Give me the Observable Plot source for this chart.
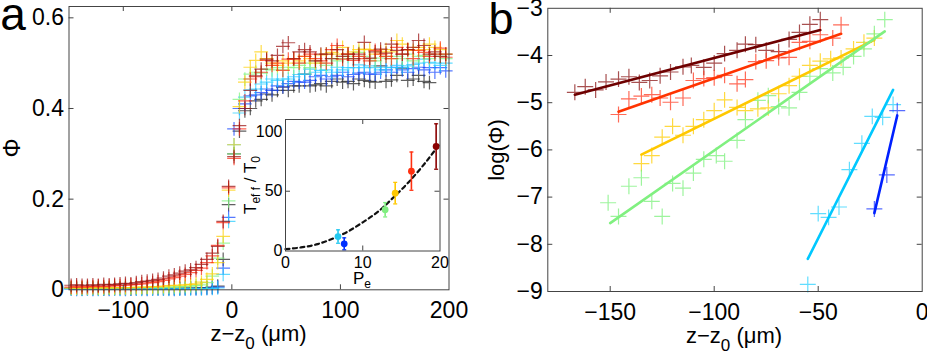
<!DOCTYPE html>
<html><head><meta charset="utf-8">
<script src="https://cdn.jsdelivr.net/npm/d3@7"></script>
<script src="https://cdn.jsdelivr.net/npm/@observablehq/plot@0.6"></script>
<style>
body{margin:0;background:#fff;}
#wrap{position:relative;width:927px;height:355px;overflow:hidden;background:#fff;}
#wrap svg{position:absolute;}
</style></head><body><div id="wrap"></div>
<script>
// ---------- Panel a data: concentration profiles ----------
const zA = [-148,-143,-138,-133,-128,-123,-118,-113,-108,-103,-98,-93,-88,-83,-78,-73,-68,-63,-58,-53,-48,-43,-38,-33,-28,-23,-18,-13,-8,-3,2,7,12,17,22,27,32,37,42,47,52,57,62,67,72,77,82,87,92,97,102,107,112,117,122,127,132,137,142,147,152,157,162,167,172,177,182,187,192,197];
const phiDarkRed = [0.010,0.011,0.010,0.010,0.011,0.010,0.012,0.011,0.012,0.013,0.014,0.013,0.016,0.018,0.019,0.021,0.023,0.026,0.030,0.033,0.037,0.041,0.044,0.049,0.056,0.067,0.081,0.096,0.151,0.228,0.294,0.362,0.400,0.440,0.472,0.487,0.509,0.505,0.517,0.537,0.545,0.510,0.525,0.530,0.525,0.505,0.520,0.520,0.510,0.530,0.515,0.520,0.510,0.520,0.546,0.511,0.525,0.531,0.522,0.542,0.528,0.520,0.530,0.535,0.550,0.539,0.520,0.525,0.515,0.520];
const phiRed = [0.006,0.007,0.006,0.007,0.007,0.008,0.007,0.008,0.009,0.009,0.010,0.011,0.012,0.013,0.015,0.016,0.018,0.021,0.024,0.027,0.030,0.034,0.038,0.043,0.048,0.060,0.075,0.098,0.148,0.225,0.290,0.355,0.417,0.465,0.470,0.480,0.506,0.495,0.500,0.484,0.509,0.509,0.500,0.515,0.520,0.510,0.505,0.500,0.530,0.539,0.509,0.520,0.506,0.515,0.510,0.505,0.528,0.520,0.515,0.510,0.535,0.520,0.530,0.510,0.528,0.524,0.515,0.520,0.533,0.513];
const phiYellow = [0.004,0.004,0.004,0.004,0.005,0.004,0.005,0.004,0.005,0.005,0.005,0.005,0.006,0.006,0.006,0.007,0.007,0.008,0.009,0.010,0.010,0.011,0.012,0.013,0.017,0.023,0.035,0.060,0.118,0.220,0.320,0.404,0.458,0.491,0.506,0.525,0.510,0.500,0.495,0.505,0.500,0.510,0.505,0.515,0.510,0.500,0.518,0.520,0.524,0.520,0.535,0.520,0.525,0.530,0.531,0.530,0.520,0.525,0.530,0.525,0.550,0.542,0.530,0.528,0.535,0.530,0.542,0.535,0.530,0.520];
const phiGreen = [0.003,0.003,0.003,0.003,0.003,0.003,0.003,0.004,0.003,0.004,0.004,0.004,0.004,0.004,0.005,0.005,0.005,0.005,0.006,0.006,0.007,0.007,0.008,0.009,0.011,0.016,0.030,0.070,0.103,0.196,0.300,0.420,0.465,0.476,0.480,0.478,0.487,0.485,0.490,0.485,0.491,0.490,0.495,0.500,0.490,0.505,0.500,0.495,0.510,0.505,0.510,0.515,0.510,0.524,0.515,0.510,0.505,0.511,0.515,0.510,0.515,0.510,0.520,0.505,0.515,0.517,0.510,0.520,0.515,0.510];
const phiCyan = [0.002,0.002,0.001,0.002,0.002,0.001,0.002,0.002,0.002,0.001,0.002,0.002,0.002,0.001,0.002,0.002,0.002,0.002,0.001,0.002,0.002,0.002,0.002,0.003,0.002,0.003,0.003,0.004,0.034,0.151,0.320,0.390,0.425,0.441,0.443,0.454,0.458,0.465,0.462,0.465,0.465,0.470,0.475,0.476,0.487,0.480,0.484,0.485,0.480,0.491,0.485,0.490,0.490,0.496,0.490,0.494,0.490,0.485,0.491,0.490,0.495,0.490,0.494,0.497,0.500,0.509,0.502,0.500,0.495,0.500];
const phiBlue = [0.002,0.001,0.002,0.002,0.001,0.002,0.002,0.001,0.002,0.002,0.001,0.002,0.002,0.002,0.001,0.002,0.002,0.002,0.002,0.001,0.002,0.002,0.003,0.002,0.003,0.003,0.004,0.006,0.048,0.160,0.355,0.400,0.410,0.428,0.430,0.435,0.443,0.440,0.450,0.448,0.455,0.460,0.458,0.458,0.462,0.470,0.473,0.465,0.470,0.473,0.480,0.470,0.475,0.478,0.480,0.476,0.476,0.480,0.485,0.480,0.491,0.485,0.480,0.488,0.491,0.485,0.490,0.480,0.490,0.483];
const phiBlack = [0.003,0.003,0.002,0.003,0.003,0.003,0.002,0.003,0.003,0.003,0.003,0.002,0.003,0.003,0.003,0.003,0.003,0.003,0.003,0.003,0.003,0.004,0.004,0.004,0.005,0.005,0.006,0.008,0.067,0.188,0.300,0.350,0.395,0.400,0.417,0.420,0.432,0.430,0.440,0.447,0.440,0.450,0.450,0.476,0.450,0.452,0.455,0.450,0.460,0.465,0.458,0.460,0.455,0.465,0.462,0.460,0.458,0.494,0.460,0.463,0.473,0.489,0.462,0.465,0.473,0.460,0.457,null,null,null];
const xTicksA = [-100, 0, 100, 200];
const yTicksA = [0, 0.2, 0.4, 0.6];

// ---------- Panel b data: log profiles and fits ----------
const bDarkRedZ = [-167,-162,-157,-152,-146,-141,-136,-131,-126,-121,-115,-111,-105,-100,-95,-89,-85,-80,-75,-69,-64,-59,-54,-49];
const bDarkRedLog = [-4.78,-4.66,-4.73,-4.56,-4.50,-4.45,-4.57,-4.53,-4.43,-4.35,-4.24,-4.21,-4.25,-4.16,-3.96,-3.89,-3.76,-3.77,-3.89,-3.92,-3.66,-3.51,-3.34,-3.24];
const bRedZ = [-146,-141,-135,-130,-126,-121,-115,-110,-105,-100,-95,-89,-85,-80,-75,-69,-64,-59,-54,-49,-43,-39];
const bRedLog = [-5.25,-4.92,-4.86,-4.83,-4.90,-4.99,-4.90,-4.53,-4.49,-4.47,-4.42,-4.60,-4.51,-4.13,-4.11,-4.05,-4.04,-3.72,-3.70,-3.56,-3.63,-3.35];
const bYellowZ = [-135,-130,-125,-120,-115,-110,-105,-100,-95,-89,-85,-79,-74,-69,-64,-59,-54,-49,-44,-39,-33,-28,-23];
const bYellowLog = [-6.29,-6.12,-5.73,-5.50,-5.69,-5.50,-5.36,-5.17,-4.94,-5.10,-5.17,-5.13,-5.11,-4.81,-4.64,-4.44,-4.21,-4.12,-4.07,-4.05,-3.86,-3.72,-3.63];
const bGreenZ = [-151,-146,-141,-135,-130,-125,-120,-115,-110,-105,-99,-95,-89,-85,-79,-74,-69,-64,-59,-54,-49,-43,-38,-33,-28,-23,-18];
const bGreenLog = [-7.12,-7.41,-6.77,-6.59,-7.09,-7.41,-6.71,-6.81,-6.49,-6.20,-6.12,-6.24,-5.80,-5.36,-4.95,-4.85,-5.08,-5.11,-4.78,-4.44,-4.28,-4.37,-4.25,-4.02,-3.86,-3.54,-3.24];
const bCyanZ = [-55,-50,-45,-40,-35,-29,-24,-19,-14];
const bCyanLog = [-8.85,-7.35,-7.43,-7.21,-6.42,-5.86,-5.29,-5.31,-5.04];
const bBlueZ = [-23,-17,-12];
const bBlueLog = [-7.25,-6.53,-5.17];
const fitDarkRedZ = [-167,-49], fitDarkRedLog = [-4.83,-3.46];
const fitRedZ = [-146,-39], fitRedLog = [-5.19,-3.54];
const fitYellowZ = [-135,-23], fitYellowLog = [-6.10,-3.67];
const fitGreenZ = [-150,-18], fitGreenLog = [-7.55,-3.49];
const fitCyanZ = [-55,-14], fitCyanLog = [-8.31,-4.73];
const fitBlueZ = [-23,-12], fitBlueLog = [-7.34,-5.27];
const xTicksB = [-150, -100, -50, 0];
const yTicksB = [-9, -8, -7, -6, -5, -4, -3];

// ---------- Inset data: T_eff/T_0 vs Pe ----------
const insetKeys = ["cyan","blue","green","yellow","red","darkred"];
const insetPe = [6.8, 7.6, 12.9, 14.2, 16.3, 19.5];
const insetT = [12.1, 6.0, 34.5, 48.4, 66.8, 87.4];
const insetErr = [5.6, 5.0, 6.0, 9.0, 16.0, 19.0];
const curvePe = [0, 2, 4, 6, 8, 10, 12, 14, 16, 18, 20];
const curveT = [1.5, 3, 5.5, 10, 16, 24, 33, 45, 58, 73, 90];
const xTicksI = [0, 10, 20];
const yTicksI = [0, 50, 100];

// ---------- styling ----------
const FONT = "'Liberation Sans', Arial, Helvetica, sans-serif";
const FRAME = "#444";
const TICK = 5;
const colA = {darkred:"#9a1010", red:"#ff2a10", yellow:"#ffcf00", green:"#7ef27e", cyan:"#22ccff", blue:"#1545ff", black:"#222222"};
const colI = {cyan:"#22c8f0", blue:"#0030ff", green:"#80ee80", yellow:"#ffc800", red:"#ff3010", darkred:"#8b0000"};
const colBpt = {darkred:"#8b1515", red:"#ff3a20", yellow:"#ffcc00", green:"#7cf07c", cyan:"#2cd2ff", blue:"#1f3bff"};
const colBline = {darkred:"#6e0000", red:"#ff3300", yellow:"#ffc800", green:"#80f080", cyan:"#00c8ff", blue:"#0020ff"};
const fmt = d => d < 0 ? "\u2212" + Math.abs(d) : String(d);

function innerTicks(xt, yt, iw, ih) {
  return [
    Plot.tickX(xt, {x: d => d, insetTop: ih - TICK, stroke: FRAME}),
    Plot.tickX(xt, {x: d => d, insetBottom: ih - TICK, stroke: FRAME}),
    Plot.tickY(yt, {y: d => d, insetRight: iw - TICK, stroke: FRAME}),
    Plot.tickY(yt, {y: d => d, insetLeft: iw - TICK, stroke: FRAME})
  ];
}
function place(svg, left, top) {
  svg.style.left = left + "px"; svg.style.top = top + "px";
  document.getElementById("wrap").appendChild(svg);
}
function label(svg, x, y, size, parts, rotate) {
  const t = d3.select(svg).append("text")
    .attr("transform", `translate(${x},${y})` + (rotate ? ` rotate(${rotate})` : ""))
    .attr("text-anchor", "middle").attr("font-family", FONT).attr("font-size", size).attr("fill", "#000");
  for (const p of parts) {
    const s = t.append("tspan").text(p.t);
    if (p.size) s.attr("font-size", p.size);
    if (p.dy) s.attr("dy", p.dy);
  }
}

// ---------- Panel a ----------
const seriesA = [
  ["black", phiBlack], ["blue", phiBlue], ["cyan", phiCyan], ["green", phiGreen],
  ["yellow", phiYellow], ["red", phiRed], ["darkred", phiDarkRed]
];
const dataA = seriesA.flatMap(([key, phi]) => zA.map((z, i) => ({z, phi: phi[i], key}))).filter(d => d.phi != null);
const mA = {top: 6, right: 21.5, bottom: 65.7, left: 68.5};
const WA = 470, HA = 355;
const iwA = WA - mA.left - mA.right, ihA = HA - mA.top - mA.bottom;
const plotA = Plot.plot({
  width: WA, height: HA,
  marginTop: mA.top, marginRight: mA.right, marginBottom: mA.bottom, marginLeft: mA.left,
  style: {background: "transparent", fontFamily: FONT, overflow: "visible"},
  x: {domain: [-150, 200]},
  y: {domain: [0, 0.625]},
  marks: [
    Plot.dot(dataA, {x: "z", y: "phi", stroke: d => colA[d.key], symbol: "plus", r: 4.5, strokeWidth: 1.2, strokeOpacity: 0.72}),
    ...innerTicks([-100, 0, 100], [0.2, 0.4, 0.6], iwA, ihA),
    Plot.axisX(xTicksA, {tickSize: 0, tickPadding: 12, fontSize: 23, label: null, tickFormat: fmt}),
    Plot.axisY(yTicksA, {tickSize: 0, tickPadding: 5, fontSize: 23, label: null, tickFormat: d => String(d)}),
    Plot.frame({stroke: FRAME})
  ]
});
label(plotA, 13, 30, 46, [{t: "a"}]);
label(plotA, 20, 148, 24, [{t: "\u03a6"}], -90);
label(plotA, 258.5, 341, 22, [{t: "z\u2212z"}, {t: "0", size: 17, dy: 8}, {t: " (\u03bcm)", size: 22, dy: -8}]);
place(plotA, 0, 0);

// ---------- Inset ----------
const dataI = insetKeys.map((key, i) => ({key, pe: insetPe[i], t: insetT[i], err: insetErr[i]}));
const curveI = curvePe.map((pe, i) => ({pe, t: curveT[i]}));
const capSymbol = {draw(ctx, size) { const r = Math.sqrt(size / Math.PI); ctx.moveTo(-r, 0); ctx.lineTo(r, 0); }};
const mI = {top: 9, right: 15.5, bottom: 39.5, left: 45};
const WI = 215, HI = 180;
const iwI = WI - mI.left - mI.right, ihI = HI - mI.top - mI.bottom;
const plotI = Plot.plot({
  width: WI, height: HI,
  marginTop: mI.top, marginRight: mI.right, marginBottom: mI.bottom, marginLeft: mI.left,
  style: {background: "transparent", fontFamily: FONT, overflow: "visible"},
  x: {domain: [0, 20]},
  y: {domain: [0, 110]},
  marks: [
    Plot.frame({fill: "white", stroke: "none"}),
    Plot.line(curveI, {x: "pe", y: "t", stroke: "#111", strokeWidth: 2.2, strokeDasharray: "4,3.5", curve: "monotone-x"}),
    Plot.ruleX(dataI, {x: "pe", y1: d => d.t - d.err, y2: d => d.t + d.err, stroke: d => colI[d.key], strokeWidth: 1.6}),
    Plot.dot(dataI, {x: "pe", y: d => d.t + d.err, symbol: capSymbol, r: 2, stroke: d => colI[d.key], strokeWidth: 1.3}),
    Plot.dot(dataI, {x: "pe", y: d => d.t - d.err, symbol: capSymbol, r: 2, stroke: d => colI[d.key], strokeWidth: 1.3}),
    Plot.dot(dataI, {x: "pe", y: "t", fill: d => colI[d.key], r: 3.4}),
    ...innerTicks([10], [50], iwI, ihI),
    Plot.axisX(xTicksI, {tickSize: 0, tickPadding: 6, fontSize: 16, label: null}),
    Plot.axisY(yTicksI, {tickSize: 0, tickPadding: 3, fontSize: 16, label: null}),
    Plot.frame({stroke: FRAME})
  ]
});
label(plotI, 122, 174, 17, [{t: "P"}, {t: "e", size: 12, dy: 4}]);
label(plotI, 16, 75, 17, [{t: "T"}, {t: "ef f", size: 12, dy: 4}, {t: " / T", size: 17, dy: -4}, {t: "0", size: 12, dy: 4}], -90);
place(plotI, 240, 110);

// ---------- Panel b ----------
const pointsB = [
  ["darkred", bDarkRedZ, bDarkRedLog], ["red", bRedZ, bRedLog], ["yellow", bYellowZ, bYellowLog],
  ["green", bGreenZ, bGreenLog], ["cyan", bCyanZ, bCyanLog], ["blue", bBlueZ, bBlueLog]
].flatMap(([key, zs, ls]) => zs.map((z, i) => ({key, z, l: ls[i]})));
const fitsB = [
  ["darkred", fitDarkRedZ, fitDarkRedLog], ["red", fitRedZ, fitRedLog], ["yellow", fitYellowZ, fitYellowLog],
  ["green", fitGreenZ, fitGreenLog], ["cyan", fitCyanZ, fitCyanLog], ["blue", fitBlueZ, fitBlueLog]
].flatMap(([key, zs, ls]) => zs.map((z, i) => ({key, z, l: ls[i]})));
const mB = {top: 7.8, right: 5.3, bottom: 64, left: 77.3};
const WB = 457, HB = 355;
const iwB = WB - mB.left - mB.right, ihB = HB - mB.top - mB.bottom;
const plotB = Plot.plot({
  width: WB, height: HB,
  marginTop: mB.top, marginRight: mB.right, marginBottom: mB.bottom, marginLeft: mB.left,
  style: {background: "transparent", fontFamily: FONT, overflow: "visible"},
  x: {domain: [-180, 0]},
  y: {domain: [-9, -3]},
  marks: [
    Plot.dot(pointsB, {x: "z", y: "l", stroke: d => colBpt[d.key], symbol: "plus", r: 5.2, strokeWidth: 1.2, strokeOpacity: 0.75}),
    Plot.line(fitsB, {x: "z", y: "l", z: "key", stroke: d => colBline[d.key], strokeWidth: 2.6}),
    ...innerTicks([-150, -100, -50], [-8, -7, -6, -5, -4], iwB, ihB),
    Plot.axisX(xTicksB, {tickSize: 0, tickPadding: 12, fontSize: 23, label: null, tickFormat: fmt}),
    Plot.axisY(yTicksB, {tickSize: 0, tickPadding: 5, fontSize: 23, label: null, tickFormat: fmt}),
    Plot.frame({stroke: FRAME})
  ]
});
label(plotB, 31, 34, 45, [{t: "b"}]);
label(plotB, 34, 150, 22, [{t: "log(\u03a6)"}], -90);
label(plotB, 264, 343, 22, [{t: "z\u2212z"}, {t: "0", size: 17, dy: 8}, {t: " (\u03bcm)", size: 22, dy: -8}]);
place(plotB, 470, 0);
</script></body></html>
